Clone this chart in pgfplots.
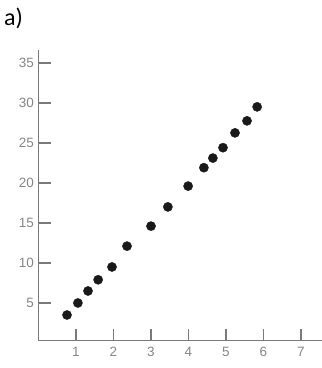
\documentclass[border=0pt]{standalone}
\usepackage{fontspec}
\setmainfont{Liberation Sans}
\newfontfamily\calib{Carlito}
\usepackage{pgfplots}
\pgfplotsset{compat=1.18}
\definecolor{axgray}{HTML}{7A7A7A}
\definecolor{lblgray}{HTML}{858585}
\begin{document}
\begin{tikzpicture}
\useasboundingbox (0,0) rectangle (322pt,368pt);
\node[anchor=west,inner sep=0pt] at (4pt,350pt) {\calib\fontsize{24}{28}\selectfont a)};
\begin{axis}[
  at={(38.5pt,27.4pt)}, anchor=south west,
  scale only axis, width=283.5pt, height=290.6pt,
  xmin=0, xmax=7.56, ymin=0.3, ymax=36.6,
  axis lines=left, axis line style={-, axgray, line width=1.6pt},
  xtick={1,2,3,4,5,6,7}, ytick={5,10,15,20,25,30,35},
  tick align=inside, major tick length=12pt,
  tick style={axgray, line width=1.5pt},
  ticklabel style={font=\fontsize{13.5}{15}\selectfont, text=lblgray},
  /pgf/number format/assume math mode=true,
  xticklabel style={yshift=-3pt},
  yticklabel style={xshift=-1pt},
  clip=false,
]
\addplot[only marks, mark=*, mark size=4.6pt, color=black!90] coordinates {
(0.76,3.5) (1.05,5.0) (1.32,6.5) (1.59,7.9) (1.96,9.5) (2.36,12.1) (3.0,14.6)
(3.45,17.0) (3.99,19.6) (4.41,21.9) (4.65,23.1) (4.92,24.4) (5.24,26.25) (5.56,27.75) (5.83,29.5)
};
\end{axis}
\end{tikzpicture}
\end{document}
